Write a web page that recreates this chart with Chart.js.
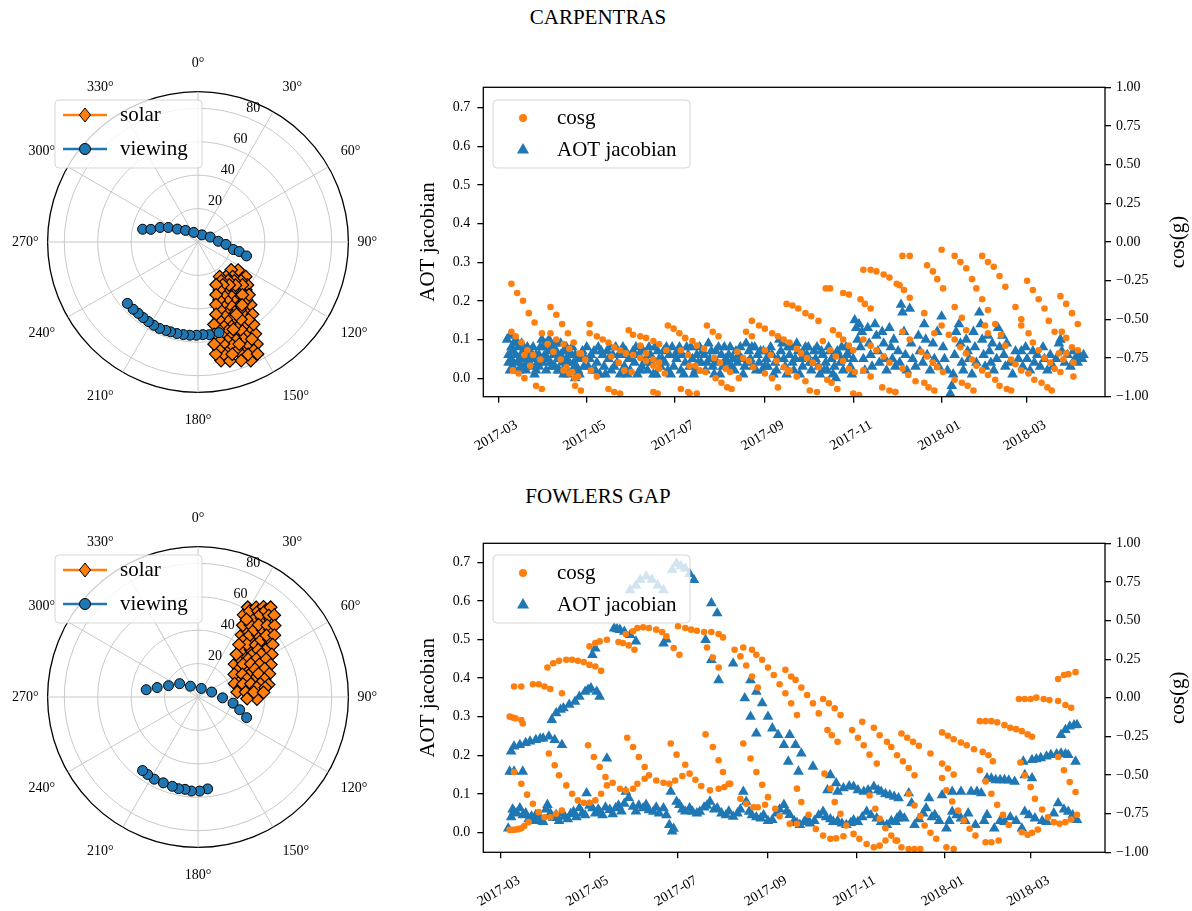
<!DOCTYPE html>
<html>
<head>
<meta charset="utf-8">
<script src="https://cdn.jsdelivr.net/npm/chart.js@4.4.1/dist/chart.umd.min.js"></script>
<style>
  body { margin: 0; background: #fff; }
  #fig { position: relative; width: 1192px; height: 911px; overflow: hidden; }
  canvas { position: absolute; }
  .title { position: absolute; left: 398px; width: 400px; text-align: center; font: 21px "Liberation Serif", serif; color: #000; }
</style>
</head>
<body>
<div id="fig">
  <div class="title" style="top:5px">CARPENTRAS</div>
  <div class="title" style="top:484px">FOWLERS GAP</div>
  <canvas id="polarTop" width="395" height="385" style="left:0;top:50px"></canvas>
  <canvas id="seriesTop" width="792" height="390" style="left:400px;top:70px"></canvas>
  <canvas id="polarBottom" width="395" height="385" style="left:0;top:505px"></canvas>
  <canvas id="seriesBottom" width="792" height="386" style="left:400px;top:525px"></canvas>
</div>
<script>
// polar plots: [azimuth deg, zenith deg]
const carpViewing = [[283,34],[285,29.2],[291,24.3],[296,19.8],[302,14.6],[313,10.2],[336,6.3],[29,4.9],[68,7.9],[88,12.2],[95,16.8],[102,21.6],[103,25.3],[106,30.2],
  [229,56],[224,55.9],[220,55.7],[216,55.9],[212,56.1],[208,56.4],[204,56.6],[200,56.3],[197,56.2],[193,56.2],[189,56.1],[185,56],[181,55.8],[177,55.5],[173,55.9],[167,55.7]];
const carpSolar = [[130,25.9],[125,29.3],
  [148,24.4],[141,26.6],[135,29.3],[130,32.2],[126,35.3],
  [149,27.1],[142,29.3],[137,31.9],[132,34.7],
  [157,27.8],[150,29.6],[144,31.8],[139,34.2],[134,37],[131,39.2],
  [156,31.4],[150,33.3],[144,35.4],[139,37.9],[135,40.4],
  [161,33.4],[155,34.9],[149,36.7],[144,38.9],[140,41.3],[136,43.9],
  [160,36.9],[154,38.5],[149,40.3],[144,42.5],[140,45.1],
  [164,39],[159,40.3],[153,41.9],[149,43.8],[145,46],[140,49],
  [162,42.5],[157,43.8],[153,45.5],[148,47.6],[144,50.2],
  [166,44.7],[161,45.8],[157,47.3],[152,49],[148,51.4],[143,54.2],
  [165,48],[160,49.3],[156,50.9],[151,52.9],[147,55.4],
  [169,50.3],[164,51.3],[159,52.7],[155,54.5],[150,56.7],[146,59.4],
  [167,53.7],[162,54.8],[158,56.4],[154,58.3],[149,60.8],
  [170,56.1],[166,57],[161,58.3],[157,59.9],[153,62.2],[148,64.8],
  [168,59.5],[164,60.6],[159,62.1],[155,64],[151,66.4],
  [171,61.9],[166,62.9],[162,64.2],[158,65.9],[154,67.9],[150,70.5],
  [169,65.4],[164,66.6],[160,68],[157,69.8],[153,72],
  [171,67.9],[167,68.9],[163,70.2],[159,71.8],[156,73.7],[152,75.9],
  [169,72.3],[165,73.7],[160,75.5],[156,77.7]];
const fowlViewing = [[278,31.3],[283,25.1],[291,18.9],[306,13.6],[325,7.9],[21,5.5],[70,8.7],[92,14.7],[100,21.3],[107,26.1],[113,31.6],
  [217,55.1],[213,55.3],[208,55.7],[202,55.4],[196,55.6],[192,56.1],[188,55.8],[184,56.4],[179,56.3],[174,55.3]];
const fowlSolar = [[29,61.4],[33,63.9],[36,66.7],[39,69.1],
  [31,60],[35,62.7],[38,65.5],
  [29,56.2],[33,58.7],[37,61.6],[41,64.6],[43,66.9],
  [32,54.7],[35,57.5],[39,60.6],[43,63.5],
  [32,50.6],[36,53.3],[40,56.4],[44,59.6],[47,62.7],
  [36,49.4],[40,52.4],[44,55.7],[47,59],
  [35,45.4],[40,48.3],[44,51.6],[48,55.1],[51,58.8],
  [39,44.1],[44,47.4],[48,50.9],[51,54.7],
  [38,39.8],[43,43],[48,46.5],[51,50.2],[55,54.6],
  [43,38.8],[48,42.3],[52,45.8],[55,49.8],
  [42,34.4],[48,37.9],[52,41.6],[56,45.6],[60,51],
  [48,33.8],[53,37.5],[57,41.6],[61,46.6],
  [48,29.4],[54,33.3],[58,37.3],[62,41.6],[66,47.7],
  [56,29.5],[60,33.7],[64,38],[67,43.3],
  [58,25.6],[63,29.8],[66,34.2],[69,38.8],[72,44.9],
  [66,26.7],[70,31.2],[72,35.9],[75,41.2],
  [70,23.3],[74,28],[76,32.7],[78,38.1],[80,42.9],
  [78,25.9],[80,30.7],[81,35.6],[82,40.6],
  [83,23.7],[84,28.6],[85,33.5],[86,39.3],
  [92,29.4],[92,35.3]];

// time series: [days since 2017-03-01, value]
const carpCosg = [[9,-.27],[13,-.33],[17,-.38],[21,-.46],[25,-.52],[30,-.59],[34,-.66],[38,-.71],[43,-.76],[47,-.81],[51,-.84],[55,-.87],
  [9,-.58],[12,-.61],[16,-.65],[20,-.70],[24,-.73],[29,-.76],[10,-.83],[14,-.85],[18,-.88],[26,-.93],[30,-.95],
  [36,-.42],[40,-.47],[44,-.53],[48,-.59],[52,-.65],[56,-.72],[36,-.59],[40,-.63],[45,-.66],[49,-.69],[57,-.72],[18,-.73],[22,-.80],
  [45,-.83],[49,-.85],[53,-.88],[53,-.93],[57,-.96],
  [63,-.53],[63,-.59],[68,-.61],[72,-.63],[76,-.65],[80,-.68],[84,-.70],[88,-.72],[93,-.73],[98,-.75],[102,-.77],[107,-.80],[111,-.82],[115,-.85],
  [60,-.76],[64,-.83],[68,-.87],[76,-.95],[80,-.97],[84,-.98],[78,-.74],[83,-.78],[87,-.83],[92,-.84],
  [90,-.57],[93,-.60],[98,-.61],[102,-.62],[107,-.64],[111,-.66],[116,-.70],[98,-.67],[102,-.72],[107,-.76],[111,-.78],
  [107,-.97],[110,-.98],[126,-.95],[131,-.97],
  [117,-.54],[121,-.56],[125,-.59],[129,-.62],[134,-.64],[137,-.67],[142,-.69],[126,-.70],[131,-.73],
  [144,-.54],[148,-.58],[152,-.61],[132,-.80],[136,-.80],[139,-.83],[143,-.84],
  [149,-.75],[153,-.78],[157,-.82],[160,-.84],[166,-.88],[150,-.88],[154,-.91],[158,-.94],[161,-.95],[132,-.98],[137,-.98],
  [165,-.71],[169,-.75],[173,-.77],[176,-.81],[171,-.58],[175,-.61],
  [175,-.51],[180,-.54],[184,-.56],[189,-.59],[193,-.61],[197,-.63],
  [184,-.70],[188,-.73],[192,-.77],[197,-.81],[200,-.84],[184,-.85],[189,-.88],[193,-.94],
  [199,-.40],[203,-.41],[207,-.43],[212,-.46],[216,-.48],[221,-.51],
  [201,-.65],[206,-.69],[209,-.72],[213,-.75],[217,-.78],[221,-.81],[201,-.83],[206,-.87],[212,-.90],[215,-.96],[220,-.97],
  [226,-.30],[229,-.30],[238,-.33],[242,-.34],[250,-.37],[253,-.40],[257,-.43],
  [252,-.18],[257,-.18],[261,-.19],[266,-.21],[270,-.23],[275,-.27],
  [231,-.57],[235,-.60],[238,-.63],[242,-.67],[245,-.70],
  [224,-.64],[229,-.70],[233,-.74],[238,-.77],[242,-.82],[246,-.84],[227,-.89],[230,-.91],[234,-.95],
  [252,-.63],[257,-.67],[261,-.70],[266,-.74],[270,-.78],[252,-.83],[257,-.87],[265,-.94],[270,-.96],[274,-.97],[245,-.98],[249,-.99],
  [279,-.09],[284,-.09],[277,-.28],[280,-.31],[284,-.36],
  [296,-.15],[300,-.19],[303,-.24],[307,-.30],[306,-.05],
  [315,-.09],[319,-.13],[323,-.17],[327,-.24],[330,-.30],[334,-.37],[338,-.44],
  [334,-.09],[338,-.13],[342,-.16],[346,-.22],[350,-.29],[315,-.42],[320,-.49],[323,-.57],
  [365,-.25],[369,-.31],[373,-.37],[377,-.43],[380,-.51],[384,-.58],[389,-.58],
  [388,-.35],[392,-.40],[396,-.46],[400,-.53],
  [357,-.42],[361,-.50],[361,-.54],[366,-.59],[369,-.65],[373,-.70],[377,-.75],[381,-.78],[384,-.82],[388,-.84],
  [392,-.62],[392,-.72],[396,-.68],[400,-.70],[397,-.78],[397,-.87],
  [294,-.46],[292,-.71],[296,-.74],[300,-.78],[303,-.81],[307,-.84],
  [301,-.59],[306,-.54],[311,-.60],[315,-.63],[319,-.68],[323,-.72],[327,-.76],[330,-.80],[334,-.83],[338,-.86],[343,-.89],[346,-.93],[351,-.95],[354,-.96],
  [279,-.58],[284,-.63],[279,-.82],[283,-.86],[288,-.90],[294,-.91],[297,-.94],[301,-.96],
  [336,-.54],[338,-.59],[343,-.53],[347,-.60],[350,-.67],[354,-.76],[357,-.79],
  [315,-.89],[320,-.91],[324,-.93],[328,-.96],[274,-.97],
  [361,-.83],[366,-.85],[370,-.89],[375,-.91],[379,-.94],[382,-.96],[387,-.72],[390,-.76]];

const carpAot = [[6,.10],[7,.06],[7,.04],[8,.11],[9,.08],[9,.05],[10,.03],[11,.09],[12,.06],[13,.04],[14,.08],[15,.05],[16,.03],[17,.07],[18,.05],[19,.02],[20,.06],[21,.04],[22,.07],[23,.03],[24,.05],[25,.01],[26,.02],[27,.04],[28,.06],
  [8,.02],[10,.07],[12,.10],[14,.02],[16,.09],[18,.03],[20,.08],[22,.05],[24,.08],[26,.06],[28,.03],[29,.08],
  [30,.10],[31,.08],[32,.06],[33,.09],[34,.05],[35,.07],[36,.04],[37,.08],[38,.06],[39,.03],[40,.07],[41,.05],[42,.02],[43,.06],[44,.04],[45,.07],[46,.03],[47,.05],[48,.01],[49,.04],[50,.06],[51,.02],[52,.04],[53,0],[54,.03],[55,.05],[56,.01],
  [31,.04],[33,.02],[35,.10],[37,.03],[39,.09],[41,.02],[43,.09],[45,.01],[47,.08],[49,.07],[51,.08],[53,.06],[55,.02],[57,.05],[59,.03],
  [58,.07],[60,.05],[61,.08],[62,.03],[64,.06],[65,.02],[66,.07],[68,.04],[69,.08],[70,.01],[72,.06],[73,.03],[75,.07],[76,.05],[78,.02],[79,.06],[81,.08],[82,.04],[84,.01],[85,.06],[87,.03],[88,.07],[90,.05],[91,.02],[93,.07],[94,.04],[96,.01],[97,.06],[99,.03],[100,.07],[102,.05],[103,.02],[105,.06],[106,.04],[108,.08],[109,.01],[111,.05],[112,.03],[114,.07],[115,.04],[117,.02],[118,.06],[120,.08],[121,.03],
  [63,.05],[67,.02],[71,.07],[74,.01],[77,.08],[80,.03],[83,.06],[86,.08],[89,.01],[92,.05],[95,.08],[98,.02],[101,.04],[104,.08],[107,.01],[110,.07],[113,.05],[116,.08],[119,.01],[122,.06],
  [123,.05],[124,.07],[126,.02],[127,.06],[129,.04],[130,.08],[132,.03],[134,.05],[136,.02],[137,.06],[139,.08],[140,.04],[142,.06],[143,.02],[145,.09],[146,.05],[148,.03],[150,.07],[151,.04],[153,.01],[154,.06],
  [125,.08],[128,.01],[131,.06],[133,.08],[135,.01],[138,.04],[141,.07],[144,.04],[147,.07],[149,.01],[152,.08],[155,.03],[156,.08],[157,.05],
  [158,.04],[159,.06],[161,.03],[162,.05],[164,.07],[165,.04],[167,.08],[168,.05],[170,.03],[171,.09],[173,.07],[174,.05],[176,.03],[177,.08],[179,.06],[180,.04],[182,.02],[183,.07],[185,.05],[186,.03],[188,.08],[189,.06],[191,.04],[192,.02],[194,.10],[195,.07],[197,.05],[198,.03],[200,.08],
  [160,.08],[163,.02],[166,.06],[169,.01],[172,.04],[175,.08],[178,.02],[181,.07],[184,.03],[187,.06],[190,.01],[193,.05],[196,.09],[199,.01],
  [201,.06],[203,.04],[204,.02],[206,.09],[207,.07],[209,.05],[210,.03],[212,.08],[213,.06],[215,.04],[216,.02],[218,.07],[219,.05],[221,.03],[222,.01],[224,.06],[226,.04],[227,.02],[229,.07],[230,.05],[232,.03],[233,0],[235,.06],[236,.04],[238,.02],[240,.08],[241,.06],[243,.03],[244,.01],
  [202,.08],[205,.05],[208,.01],[211,.06],[214,.08],[217,.04],[220,.08],[223,.07],[225,.02],[228,.08],[231,.01],[234,.07],[237,.08],[239,.05],[242,.07],[245,.05],
  [246,.15],[247,.13],[248,.10],[249,.14],[250,.08],[251,.12],[252,.05],[253,.02],[255,.13],[256,.09],[257,.06],[258,.03],[260,.14],[261,.11],[262,.07],[263,.04],[265,.12],[266,.09],[267,.05],[268,.02],[270,.13],[271,.08],[272,.05],[273,.10],[274,.03],
  [276,.07],[277,.04],[278,.19],[279,.17],[280,.12],[281,.06],[282,.02],[284,.18],[285,.09],[286,.05],[288,.03],[290,.11],[291,.07],[293,.04],[294,.14],[295,.10],[296,.06],[298,.02],[300,.09],[301,.05],[303,.12],[304,.03],[306,.16],[307,.08],[308,.05],
  [310,.02],[312,-.04],[313,-.02],[314,.01],[315,.06],[316,.12],[318,.14],[319,.09],[320,.04],[321,.02],[323,.10],[324,.07],[325,.05],[327,.01],[328,.12],[329,.08],[330,.04],[332,.17],[333,.14],[334,.10],[335,.06],[336,.03],[338,.11],[339,.07],[340,.04],[341,.09],[342,.02],[344,.05],[345,.13],[346,.08],
  [348,.11],[349,.06],[350,.03],[351,.09],[353,.04],[355,.01],[357,.07],[359,.05],[361,.07],[362,.03],[364,.08],[365,.05],[367,.02],[369,.07],[370,.04],[372,.06],[374,.03],[376,.08],[377,.05],[379,.02],[381,.06],[383,.03],[385,.05],[387,.09],[388,.10],[389,.07],[391,.04],[393,.06],[395,.03],[397,.07],[398,.05],[400,.04],[401,.06],[403,.05],[404,.06]];

const fowlCosg = [[6,-.855],[8,-.855],[10,-.853],[12,-.85],[14,-.844],[16,-.83],[19,-.805],
  [6,-.122],[8,-.128],[10,-.133],[14,-.144],[15,-.166],[9,.073],[14,.073],
  [22,.088],[26,.088],[30,.073],[34,.057],[42,.029],
  [32,.196],[36,.224],[40,.239],[45,.246],[49,.246],[53,.239],[57,.231],[61,.213],[65,.203],[69,.174],
  [61,.333],[65,.354],[68,.365],[73,.376],[81,.361],[84,.354],[88,.339],[92,.311],
  [86,.413],[91,.430],[94,.452],[98,.456],[102,.452],[107,.441],[111,.426],[114,.398],[119,.322],[123,.278],
  [122,.463],[127,.452],[131,.441],[135,.434],[140,.426],[145,.426],[150,.413],[153,.391],
  [142,.326],[146,.261],[150,.196],
  [161,.311],[167,.326],[173,.311],[176,.278],[180,.246],[184,.196],[188,.148],[192,.088],[196,.029],[200,-.036],[204,-.112],
  [165,.268],[169,.209],[173,.138],[177,.066],
  [196,.181],[200,.138],[203,.116],[207,.066],[211,.018],[215,-.036],[219,-.101],
  [222,-.008],[226,-.036],[230,-.068],[234,-.112],
  [249,-.155],[257,-.194],[261,-.242],[266,-.285],[269,-.318],[273,-.372],
  [242,-.209],[246,-.259],[250,-.307],[254,-.368],[259,-.426],
  [225,-.209],[228,-.242],[232,-.285],
  [276,-.231],[280,-.259],[284,-.285],[288,-.311],
  [277,-.411],[281,-.454],[285,-.502],
  [296,-.361],[304,-.224],[308,-.246],[312,-.268],[317,-.289],[321,-.307],[326,-.333],[332,-.350],[336,-.372],[339,-.411],
  [304,-.426],[308,-.458],[312,-.497],
  [304,-.519],[307,-.599],[311,-.671],[315,-.729],[319,-.794],[323,-.848],[327,-.892],
  [330,-.151],[334,-.151],[338,-.151],[342,-.159],[347,-.177],[351,-.194],[355,-.203],[359,-.216],[363,-.237],[366,-.252],
  [357,-.008],[361,-.008],[365,-.008],[369,.001],[374,-.008],[378,-.014],[384,-.021],[389,-.047],[393,-.064],
  [384,.122],[388,.148],[391,.153],[396,.166],
  [330,-.469],[334,-.541],[338,-.621],[342,-.693],[346,-.758],[350,-.823],
  [358,-.419],[361,-.502],[365,-.578],[368,-.653],[373,-.723],[377,-.773],[381,-.805],[385,-.816],[389,-.805],[393,-.788],[397,-.757],
  [384,-.383],[388,-.469],[392,-.545],[396,-.610],
  [359,-.870],[363,-.887],[366,-.874],[370,-.853],
  [334,-.935],[338,-.935],[343,-.924],[307,-.968],[312,-.979],
  [272,-.924],[276,-.968],[281,-.979],[285,-.979],[289,-.979],
  [281,-.621],[285,-.697],[289,-.766],[292,-.827],[296,-.874],[300,-.913],
  [9,-.48],[14,-.556],[18,-.627],[22,-.686],[26,-.740],[30,-.773],[34,-.773],[38,-.75],[42,-.729],
  [33,-.361],[37,-.437],[40,-.502],[45,-.567],[49,-.621],[53,-.664],[57,-.680],[61,-.680],[65,-.664],[69,-.621],[73,-.567],[77,-.55],[82,-.589],[86,-.600],[91,-.589],[94,-.556],[99,-.524],[102,-.502],[107,-.535],[112,-.550],[116,-.556],[120,-.535],[125,-.506],[130,-.491],
  [60,-.307],[64,-.383],[68,-.448],[72,-.513],
  [87,-.259],[91,-.318],[95,-.383],[99,-.448],
  [117,-.296],[121,-.368],[127,-.433],
  [134,-.53],[138,-.571],[144,-.599],[150,-.589],[154,-.578],[158,-.556],
  [141,-.237],[146,-.318],[150,-.404],[153,-.480],[157,-.556],
  [167,-.296],[172,-.393],[176,-.480],[180,-.563],[184,-.643],[189,-.718],[192,-.766],[199,-.816],[204,-.816],
  [165,-.653],[169,-.686],[174,-.708],[177,-.708],[182,-.692],
  [204,-.588],[207,-.675],[212,-.757],[217,-.849],[222,-.892],[227,-.913],[231,-.909],[236,-.896],
  [223,-.491],[227,-.589],[230,-.675],[234,-.751],[238,-.827],[243,-.881],[247,-.913],[252,-.946],[257,-.968],[261,-.957],[265,-.924],
  [254,-.632],[258,-.718],[261,-.783],[265,-.844],[269,-.892],[273,-.924]];

const fowlAot = [[6,.158],[9,.158],[15,.158],[7,.21],[9,.223],[13,.227],[17,.232],[20,.236],[24,.240],[27,.243],[29,.244],[33,.249],[37,.240],[42,.227],
  [35,.292],[38,.309],[41,.318],[43,.322],[47,.331],[51,.339],[54,.352],[58,.365],[60,.370],[62,.374],[66,.365],[68,.352],
  [73,.192],[63,.46],[65,.477],
  [78,.529],[80,.527],[82,.525],[85,.52],[89,.512],[93,.495],[112,.49],[114,.50],
  [89,.628],[93,.64],[96,.654],[100,.663],[104,.655],[108,.64],[112,.628],[118,.68],[121,.697],[124,.69],[127,.684],[130,.67],
  [133,.654],[145,.594],[149,.568],
  [141,.499],[145,.447],[150,.395],[160,.438],
  [172,.395],[168,.348],[176,.365],[180,.335],[172,.300],[184,.300],[176,.257],[187,.270],[191,.253],[195,.227],[199,.253],[203,.227],[207,.205],[198,.184],[205,.158],[215,.171],
  [227,.149],[231,.128],[225,.11],[232,.106],[236,.115],[240,.12],[243,.119],[246,.11],[250,.106],[253,.11],[257,.119],[260,.11],[262,.106],[265,.10],[268,.097],[271,.093],[274,.089],
  [5,.011],[7,.04],[8,.06],[9,.054],[11,.05],[13,.063],[15,.045],[17,.05],[19,.035],[21,.042],[23,.03],[24,.046],[26,.04],[28,.033],[29,.028],[31,.06],[32,.072],[34,.05],[36,.038],[38,.046],[40,.03],[42,.05],[44,.041],[46,.035],[48,.048],[50,.054],[52,.04],[54,.063],[56,.05],[58,.045],[59,.102],[61,.07],[63,.063],[65,.05],[67,.06],[68,.054],[70,.045],[72,.065],[75,.059],[77,.048],[79,.063],[81,.07],[83,.055],[85,.075],[86,.106],[88,.09],[91,.067],[93,.055],[95,.07],[98,.063],[100,.072],[102,.058],[105,.054],[107,.065],[109,.05],[112,.063],[114,.045],[116,.02],[117,.106],[118,.003],[119,.01],[121,.08],[123,.072],[125,.06],[127,.055],[130,.063],
  [132,.054],[135,.05],[137,.054],[140,.065],[142,.07],[144,.08],[147,.06],[149,.063],[152,.05],[155,.045],[157,.055],[160,.041],[163,.05],[165,.06],[167,.106],[169,.08],[171,.054],[173,.045],[176,.04],[179,.037],[181,.045],[184,.03],[187,.033],[190,.05],[192,.06],[195,.072],[197,.055],[199,.046],[202,.03],[204,.025],[206,.02],[209,.028],[211,.035],[213,.024],[216,.03],[219,.045],[222,.054],[224,.04],[227,.035],[229,.028],[232,.03],[235,.024],[238,.02],[241,.025],[243,.032],[246,.028],[249,.04],[252,.054],[255,.045],[259,.037],[262,.028],[266,.02],[269,.03],[273,.037],
  [272,.028],[275,.045],[278,.037],[281,.102],[283,.076],[285,.02],[288,.035],[291,.05],[293,.063],[295,.089],[297,.04],[299,.046],[302,.03],[304,.097],[307,.011],[309,.03],[311,.054],[311,.106],[314,.045],[317,.037],[317,.106],[320,.03],[322,.05],[324,.106],[327,.02],[328,.106],[331,.102],[333,.03],[335,.046],[335,.141],[338,.14],[340,.011],[341,.136],[344,.03],[344,.136],[347,.028],[347,.136],[350,.135],[351,.04],[354,.132],[355,.03],[359,.011],[360,.184],[361,.054],[361,.149],[364,.045],[366,.141],[366,.188],[368,.037],[369,.19],[372,.193],[373,.03],[376,.028],[376,.197],[379,.201],[381,.05],[383,.203],[384,.076],[386,.205],[388,.06],[389,.203],[391,.054],[391,.201],[394,.045],[396,.184],[397,.033],[386,.253],[389,.266],[392,.275],[395,.278],[397,.279]];

const monthTicks = [0, 61, 122, 184, 245, 306, 365];
const monthLabels = ['2017-03', '2017-05', '2017-07', '2017-09', '2017-11', '2018-01', '2018-03'];
const aotTicks = [0, 0.1, 0.2, 0.3, 0.4, 0.5, 0.6, 0.7];
const cosTicks = [-1, -0.75, -0.5, -0.25, 0, 0.25, 0.5, 0.75, 1];
const rGrid = [0, 20, 40, 60, 80, 90];
const rTicks = [20, 40, 60, 80];

const BLUE = '#1f77b4';
const ORANGE = '#ff7f0e';
const FONT = '"Liberation Serif", serif';
Chart.defaults.font.family = FONT;
Chart.defaults.color = '#000';
Chart.defaults.animation = false;

function marker(ctx, style, x, y, r, fill, edge) {
  ctx.beginPath();
  if (style === 'circle') {
    ctx.arc(x, y, r, 0, 2 * Math.PI);
  } else if (style === 'triangle') {
    ctx.moveTo(x, y - r);
    ctx.lineTo(x + r * 0.866, y + r * 0.5);
    ctx.lineTo(x - r * 0.866, y + r * 0.5);
    ctx.closePath();
  } else {
    ctx.moveTo(x, y - r);
    ctx.lineTo(x + r * 0.8, y);
    ctx.lineTo(x, y + r);
    ctx.lineTo(x - r * 0.8, y);
    ctx.closePath();
  }
  ctx.fillStyle = fill;
  ctx.fill();
  if (edge) { ctx.strokeStyle = edge; ctx.lineWidth = 1; ctx.stroke(); }
}

function drawLegend(chart, o) {
  const ctx = chart.ctx;
  ctx.save();
  ctx.beginPath();
  ctx.roundRect(o.x, o.y, o.w, o.h, 4);
  ctx.fillStyle = 'rgba(255,255,255,0.8)';
  ctx.fill();
  ctx.strokeStyle = 'rgba(204,204,204,0.8)';
  ctx.lineWidth = 1;
  ctx.stroke();
  o.items.forEach((it, i) => {
    const y = o.rowY[i];
    if (it.line) {
      ctx.strokeStyle = it.color;
      ctx.lineWidth = 2.5;
      ctx.beginPath();
      ctx.moveTo(o.lineX0, y);
      ctx.lineTo(o.lineX1, y);
      ctx.stroke();
    }
    marker(ctx, it.style, o.markerX, y, it.radius, it.color, it.edge);
    ctx.fillStyle = '#000';
    ctx.font = '21px ' + FONT;
    ctx.textBaseline = 'middle';
    ctx.textAlign = 'left';
    ctx.fillText(it.label, o.textX, y);
  });
  ctx.restore();
}

// legend drawn right after a chosen dataset (so later ones sit on top), or at the end
const legendBox = {
  id: 'legendBox',
  afterDatasetDraw(chart, args, opts) {
    if (opts.after === args.index) drawLegend(chart, opts);
  },
  afterDatasetsDraw(chart, args, opts) {
    if (opts.after === undefined || opts.after === null) drawLegend(chart, opts);
  }
};

// radial tick labels at 22.5 degrees like matplotlib
const rLabels = {
  id: 'rLabels',
  beforeDatasetsDraw(chart) {
    const s = chart.scales.r, ctx = chart.ctx;
    const a = 22.5 * Math.PI / 180;
    ctx.save();
    ctx.font = '14px ' + FONT;
    ctx.fillStyle = '#000';
    ctx.textAlign = 'center';
    ctx.textBaseline = 'middle';
    rTicks.forEach(v => {
      const d = s.getDistanceFromCenterForValue(v) + 11;
      ctx.fillText(String(v), s.xCenter + d * Math.sin(a), s.yCenter - d * Math.cos(a));
    });
    ctx.restore();
  }
};

const frame = {
  id: 'frame',
  afterDraw(chart, args, opts) {
    const {ctx, chartArea: a} = chart;
    ctx.save();
    ctx.strokeStyle = '#000';
    ctx.lineWidth = 1.3;
    ctx.strokeRect(a.left, a.top, a.right - a.left, a.bottom - a.top);
    // right axis label, reading bottom to top
    ctx.translate(chart.width - 14, (a.top + a.bottom) / 2);
    ctx.rotate(-Math.PI / 2);
    ctx.font = '21px ' + FONT;
    ctx.fillStyle = '#000';
    ctx.textAlign = 'center';
    ctx.textBaseline = 'middle';
    ctx.fillText(opts.rightTitle, 0, 0);
    ctx.restore();
  }
};

function polarSets(points, label, style) {
  const sets = [];
  points.forEach(([az, zen]) => {
    const i = Math.round(az) % 360;
    let s = sets.find(d => d[i] === null);
    if (!s) { s = new Array(360).fill(null); sets.push(s); }
    s[i] = zen;
  });
  return sets.map(data => Object.assign({ label, data, showLine: false, fill: false, borderWidth: 0 }, style));
}

function polarChart(id, viewing, solar) {
  const viewStyle = { pointStyle: 'circle', pointRadius: 5, pointBackgroundColor: BLUE, pointBorderColor: '#000', pointBorderWidth: 1 };
  const solarStyle = { pointStyle: 'rectRot', pointRadius: 6.3, pointBackgroundColor: ORANGE, pointBorderColor: '#000', pointBorderWidth: 1.2 };
  return new Chart(document.getElementById(id), {
    type: 'radar',
    data: {
      labels: Array.from({ length: 360 }, (_, i) => i + '°'),
      datasets: polarSets(viewing, 'viewing', viewStyle).concat(polarSets(solar, 'solar', solarStyle))
    },
    options: {
      responsive: false,
      layout: { padding: { left: 8, right: 14, top: 0, bottom: 0 } },
      plugins: {
        legend: { display: false },
        tooltip: { enabled: false },
        legendBox: {
          x: 55, y: 50, w: 147, h: 68, rowY: [65, 99], lineX0: 63, lineX1: 107, markerX: 85, textX: 120,
          items: [
            { label: 'solar', style: 'diamond', radius: 7, color: ORANGE, edge: '#000', line: true },
            { label: 'viewing', style: 'circle', radius: 5.5, color: BLUE, edge: '#000', line: true }
          ]
        }
      },
      scales: {
        r: {
          min: 0, max: 90,
          afterBuildTicks: s => { s.ticks = rGrid.map(v => ({ value: v })); },
          ticks: { display: false },
          grid: {
            circular: true,
            color: c => (c.tick && c.tick.value === 90 ? '#000' : '#c8c8c8'),
            lineWidth: c => (c.tick && c.tick.value === 90 ? 1.3 : 1)
          },
          angleLines: { color: '#c8c8c8', lineWidth: c => (c.index % 30 === 0 ? 1 : 0) },
          pointLabels: {
            callback: (l, i) => (i % 30 === 0 ? l : ''),
            font: { size: 14, family: FONT },
            color: '#000',
            padding: c => 9 + 11 * Math.abs(Math.cos(c.index * Math.PI / 180))
          }
        }
      }
    },
    plugins: [legendBox, rLabels]
  });
}

function seriesChart(id, cosg, aot, xMin, xMax, aotMin, aotMax, padTop, xHeight) {
  return new Chart(document.getElementById(id), {
    type: 'scatter',
    data: {
      datasets: [
        { label: 'cosg', data: cosg.map(([x, y]) => ({ x, y })), yAxisID: 'y2',
          backgroundColor: ORANGE, pointRadius: 3.3, pointBorderWidth: 0 },
        { label: 'AOT jacobian', data: aot.map(([x, y]) => ({ x, y })), yAxisID: 'y',
          backgroundColor: BLUE, pointStyle: 'triangle', pointRadius: 6.2, pointBorderWidth: 0 }
      ]
    },
    options: {
      responsive: false,
      layout: { padding: { top: padTop, left: 0, right: 0, bottom: 0 } },
      plugins: {
        legend: { display: false },
        tooltip: { enabled: false },
        legendBox: {
          after: 1,
          x: 93, y: 30, w: 197, h: 68, rowY: [48, 80], markerX: 123, textX: 157,
          items: [
            { label: 'cosg', style: 'circle', radius: 4, color: ORANGE },
            { label: 'AOT jacobian', style: 'triangle', radius: 7, color: BLUE }
          ]
        },
        frame: { rightTitle: 'cos(g)' }
      },
      scales: {
        x: {
          type: 'linear', position: 'bottom', min: xMin, max: xMax,
          afterBuildTicks: s => { s.ticks = monthTicks.map(v => ({ value: v })); },
          afterFit: s => { s.height = xHeight; },
          grid: { drawOnChartArea: false, color: '#000', lineWidth: 1.3, tickLength: 6 },
          border: { display: false },
          ticks: {
            autoSkip: false, minRotation: 30, maxRotation: 30, labelOffset: 18, padding: 14,
            font: { size: 14 },
            callback: (v, i) => monthLabels[i]
          }
        },
        y: {
          position: 'left', min: aotMin, max: aotMax,
          afterBuildTicks: s => { s.ticks = aotTicks.map(v => ({ value: v })); },
          afterFit: s => { s.width = 83.3; },
          grid: { drawOnChartArea: false, color: '#000', lineWidth: 1.3, tickLength: 6 },
          border: { display: false },
          ticks: { font: { size: 14 }, padding: 7, callback: v => v.toFixed(1) },
          title: { display: true, text: 'AOT jacobian', font: { size: 21 }, padding: { top: 16, bottom: 0 } }
        },
        y2: {
          position: 'right', min: -1, max: 1,
          afterBuildTicks: s => { s.ticks = cosTicks.map(v => ({ value: v })); },
          afterFit: s => { s.width = 87; },
          grid: { drawOnChartArea: false, color: '#000', lineWidth: 1.3, tickLength: 6 },
          border: { display: false },
          ticks: { font: { size: 14 }, padding: 5, callback: v => v.toFixed(2).replace('-', '\u2212') }
        }
      }
    },
    plugins: [legendBox, frame]
  });
}

polarChart('polarTop', carpViewing, carpSolar);
polarChart('polarBottom', fowlViewing, fowlSolar);
seriesChart('seriesTop', carpCosg, carpAot, -10.4, 418.8, -0.048, 0.753, 17.3, 63.3);
seriesChart('seriesBottom', fowlCosg, fowlAot, -12.2, 416.3, -0.051, 0.749, 18.3, 58.7);
</script>
</body>
</html>
